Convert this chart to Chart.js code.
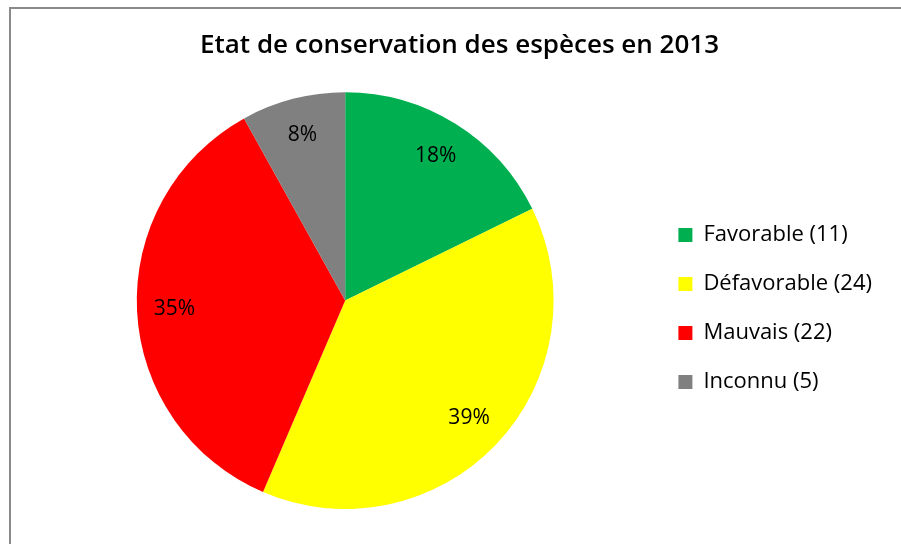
<!DOCTYPE html>
<html lang="fr">
<head>
    <meta charset="UTF-8">
    <title>Etat de conservation des espèces en 2013</title>
    <script src="https://cdn.jsdelivr.net/npm/chart.js"></script>
    <style>
        html, body {
            margin: 0;
            padding: 0;
            background: #fff;
        }
        .frame {
            position: absolute;
            left: 9px;
            top: 7px;
            width: 900px;
            height: 545px;
            border-left: 2px solid #8a8a8a;
            border-top: 2px solid #8a8a8a;
        }
        .chart-container {
            position: absolute;
            left: 0;
            top: 0;
            width: 901px;
            height: 544px;
        }
    </style>
</head>
<body>
    <div class="frame"></div>
    <div class="chart-container">
        <canvas id="etatChart"></canvas>
    </div>

    <script>
        const categories = ['Favorable', 'Défavorable', 'Mauvais', 'Inconnu'];
        const counts = [11, 24, 22, 5];
        const colors = ['#00b050', '#ffff00', '#ff0000', '#808080'];

        const FONT = '"Open Sans", Lato, sans-serif';

        // Pourcentages écrits dans chaque part
        const pctLabels = {
            id: 'pctLabels',
            afterDatasetsDraw(chart) {
                const ctx = chart.ctx;
                const meta = chart.getDatasetMeta(0);
                const total = counts.reduce((a, b) => a + b, 0);
                ctx.save();
                ctx.font = '21px ' + FONT;
                ctx.fillStyle = '#000';
                ctx.textAlign = 'center';
                ctx.textBaseline = 'middle';
                meta.data.forEach((arc, i) => {
                    const p = arc.getProps(['x', 'y', 'startAngle', 'endAngle', 'outerRadius']);
                    const mid = (p.startAngle + p.endAngle) / 2;
                    const r = p.outerRadius * 0.82;
                    const pct = Math.round(counts[i] / total * 100);
                    ctx.fillText(pct + '%', p.x + Math.cos(mid) * r, p.y + Math.sin(mid) * r);
                });
                ctx.restore();
            }
        };

        // Légende un peu plus basse que le centre, titre recentré sur le cadre
        const placeBoxes = {
            id: 'placeBoxes',
            afterLayout(chart) {
                chart.legend.top += 8;
                chart.legend.bottom += 8;
                chart.titleBlock.left = 18;
                chart.titleBlock.right = 901;
            }
        };

        new Chart(document.getElementById('etatChart'), {
            type: 'pie',
            data: {
                labels: categories,
                datasets: [{
                    data: counts,
                    backgroundColor: colors,
                    borderWidth: 0
                }]
            },
            options: {
                responsive: true,
                maintainAspectRatio: false,
                animation: false,
                layout: {
                    padding: { left: 39, right: 19, top: 0, bottom: 35 }
                },
                plugins: {
                    title: {
                        display: true,
                        text: 'Etat de conservation des espèces en 2013',
                        color: '#000',
                        font: { family: FONT, size: 26, weight: 600 },
                        padding: { top: 30, bottom: 31 }
                    },
                    legend: {
                        position: 'right',
                        fullSize: false,
                        labels: {
                            boxWidth: 14,
                            boxHeight: 14,
                            padding: 27,
                            color: '#000',
                            font: { family: FONT, size: 22 },
                            generateLabels(chart) {
                                return categories.map((c, i) => ({
                                    text: c + ' (' + counts[i] + ')',
                                    fillStyle: colors[i],
                                    strokeStyle: colors[i],
                                    lineWidth: 0,
                                    fontColor: '#000',
                                    index: i
                                }));
                            }
                        }
                    },
                    tooltip: { enabled: false }
                }
            },
            plugins: [pctLabels, placeBoxes]
        });
    </script>
</body>
</html>
